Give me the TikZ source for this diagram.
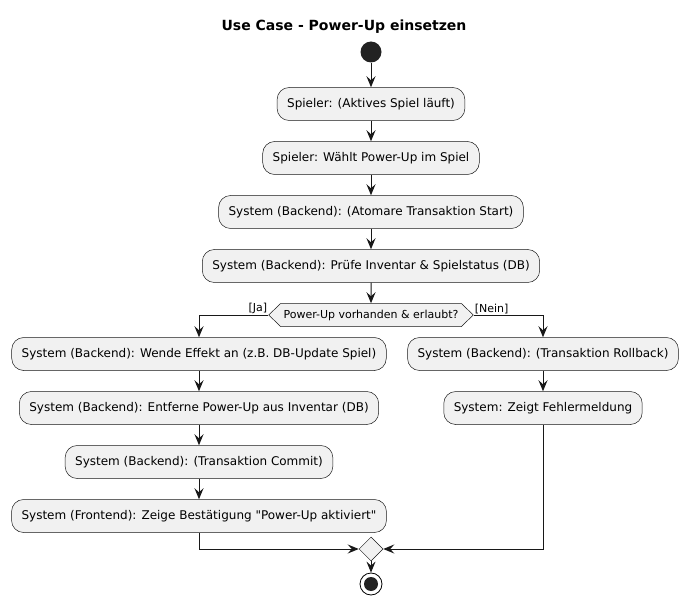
\documentclass[tikz,border=0pt]{standalone}
\usepackage{fontspec}
\setmainfont{DejaVu Sans}[Ligatures=TeXOff]
\usetikzlibrary{arrows.meta,shapes.symbols,shapes.geometric}
\definecolor{boxfill}{HTML}{F1F1F1}
\definecolor{boxline}{HTML}{181818}
\definecolor{dotfill}{HTML}{222222}
\begin{document}
\begin{tikzpicture}[x=1pt,y=-1pt,
  act/.style={draw=boxline,fill=boxfill,rounded corners=12pt,line width=0.5pt,
    minimum height=33pt,inner xsep=10pt,font=\fontsize{12}{14}\selectfont},
  decision/.style={draw=boxline,fill=boxfill,line width=0.5pt,shape=signal,
    signal to=west and east,signal pointer angle=88,minimum height=23pt,
    inner xsep=3pt,inner ysep=0pt,font=\fontsize{11}{13}\selectfont},
  merge/.style={draw=boxline,fill=boxfill,line width=0.5pt,diamond,
    minimum width=24pt,minimum height=24pt,inner sep=0pt},
  flow/.style={draw=boxline,line width=1pt,-{Stealth[length=11pt,width=9pt,inset=4pt]}},
  guard/.style={font=\fontsize{11}{13}\selectfont,inner sep=1pt}]
\useasboundingbox (0,0) rectangle (689,615);

% title
\node[font=\bfseries\fontsize{14}{16}\selectfont] (title) at (344,27) {Use Case - Power-Up einsetzen};

% start
\node[circle,fill=dotfill,minimum size=21pt,inner sep=0pt] (start) at (371,52) {};

% main sequence
\node[act] (a1) at (371,104) {Spieler: (Aktives Spiel läuft)};
\node[act] (a2) at (371,158) {Spieler: Wählt Power-Up im Spiel};
\node[act] (a3) at (371,212) {System (Backend): (Atomare Transaktion Start)};
\node[act] (a4) at (371,266) {System (Backend): Prüfe Inventar \& Spielstatus (DB)};

% decision
\node[decision] (dec) at (371,315) {Power-Up vorhanden \& erlaubt?};

% yes branch
\node[act] (l1) at (199,354) {System (Backend): Wende Effekt an (z.B. DB-Update Spiel)};
\node[act] (l2) at (199,408) {System (Backend): Entferne Power-Up aus Inventar (DB)};
\node[act] (l3) at (199,462) {System (Backend): (Transaktion Commit)};
\node[act] (l4) at (199,516) {System (Frontend): Zeige Bestätigung "Power-Up aktiviert"};

% no branch
\node[act] (r1) at (543,354) {System (Backend): (Transaktion Rollback)};
\node[act] (r2) at (543,408) {System: Zeigt Fehlermeldung};

% merge and stop
\node[merge] (mg) at (371,549) {};
\node[circle,draw=black,fill=white,line width=0.8pt,minimum size=22pt,inner sep=0pt] (stop) at (371,584) {};
\node[circle,fill=dotfill,minimum size=14pt,inner sep=0pt] (stopdot) at (stop.center) {};

% connectors
\draw[flow] (start) -- (a1);
\draw[flow] (a1) -- (a2);
\draw[flow] (a2) -- (a3);
\draw[flow] (a3) -- (a4);
\draw[flow] (a4) -- (dec);
\draw[flow] (dec.west) -| (l1.north);
\draw[flow] (dec.east) -| (r1.north);
\node[guard,anchor=south east] (gy) at (dec.west) {[Ja]};
\node[guard,anchor=south west] (gn) at (dec.east) {[Nein]};
\draw[flow] (l1) -- (l2);
\draw[flow] (l2) -- (l3);
\draw[flow] (l3) -- (l4);
\draw[flow] (r1) -- (r2);
\draw[flow] (l4.south) |- (mg.west);
\draw[flow] (r2.south) |- (mg.east);
\draw[flow] (mg) -- (stop);
\end{tikzpicture}
\end{document}
